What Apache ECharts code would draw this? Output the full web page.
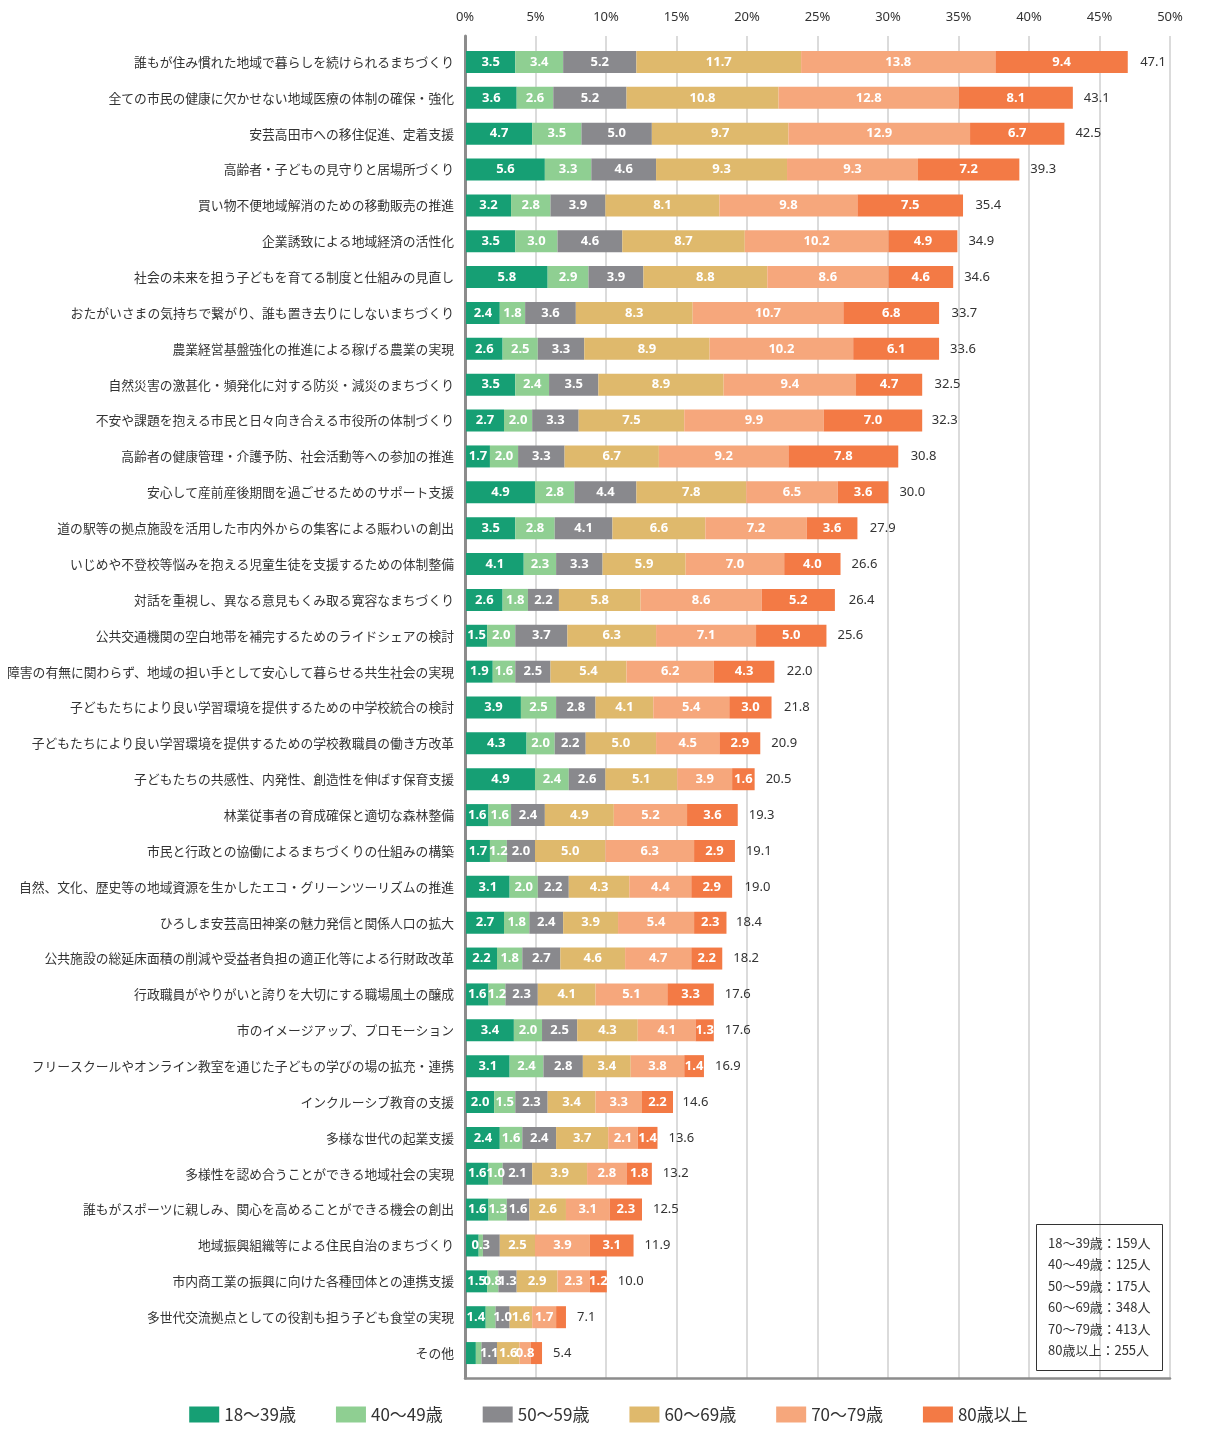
<!DOCTYPE html>
<html><head><meta charset="utf-8">
<script src="https://cdn.jsdelivr.net/npm/echarts@6/dist/echarts.min.js"></script>
<style>html,body{margin:0;padding:0;background:#fff}#c{width:1217px;height:1429px}</style>
</head><body><div id="c"></div>
<script>
const categories = [
"誰もが住み慣れた地域で暮らしを続けられるまちづくり",
"全ての市民の健康に欠かせない地域医療の体制の確保・強化",
"安芸高田市への移住促進、定着支援",
"高齢者・子どもの見守りと居場所づくり",
"買い物不便地域解消のための移動販売の推進",
"企業誘致による地域経済の活性化",
"社会の未来を担う子どもを育てる制度と仕組みの見直し",
"おたがいさまの気持ちで繋がり、誰も置き去りにしないまちづくり",
"農業経営基盤強化の推進による稼げる農業の実現",
"自然災害の激甚化・頻発化に対する防災・減災のまちづくり",
"不安や課題を抱える市民と日々向き合える市役所の体制づくり",
"高齢者の健康管理・介護予防、社会活動等への参加の推進",
"安心して産前産後期間を過ごせるためのサポート支援",
"道の駅等の拠点施設を活用した市内外からの集客による賑わいの創出",
"いじめや不登校等悩みを抱える児童生徒を支援するための体制整備",
"対話を重視し、異なる意見もくみ取る寛容なまちづくり",
"公共交通機関の空白地帯を補完するためのライドシェアの検討",
"障害の有無に関わらず、地域の担い手として安心して暮らせる共生社会の実現",
"子どもたちにより良い学習環境を提供するための中学校統合の検討",
"子どもたちにより良い学習環境を提供するための学校教職員の働き方改革",
"子どもたちの共感性、内発性、創造性を伸ばす保育支援",
"林業従事者の育成確保と適切な森林整備",
"市民と行政との協働によるまちづくりの仕組みの構築",
"自然、文化、歴史等の地域資源を生かしたエコ・グリーンツーリズムの推進",
"ひろしま安芸高田神楽の魅力発信と関係人口の拡大",
"公共施設の総延床面積の削減や受益者負担の適正化等による行財政改革",
"行政職員がやりがいと誇りを大切にする職場風土の醸成",
"市のイメージアップ、プロモーション",
"フリースクールやオンライン教室を通じた子どもの学びの場の拡充・連携",
"インクルーシブ教育の支援",
"多様な世代の起業支援",
"多様性を認め合うことができる地域社会の実現",
"誰もがスポーツに親しみ、関心を高めることができる機会の創出",
"地域振興組織等による住民自治のまちづくり",
"市内商工業の振興に向けた各種団体との連携支援",
"多世代交流拠点としての役割も担う子ども食堂の実現",
"その他"
];
const seriesNames = ["18～39歳","40～49歳","50～59歳","60～69歳","70～79歳","80歳以上"];
const age18_39 = [3.5,3.6,4.7,5.6,3.2,3.5,5.8,2.4,2.6,3.5,2.7,1.7,4.9,3.5,4.1,2.6,1.5,1.9,3.9,4.3,4.9,1.6,1.7,3.1,2.7,2.2,1.6,3.4,3.1,2.0,2.4,1.6,1.6,0.9,1.5,1.4,0.7];
const age40_49 = [3.4,2.6,3.5,3.3,2.8,3.0,2.9,1.8,2.5,2.4,2.0,2.0,2.8,2.8,2.3,1.8,2.0,1.6,2.5,2.0,2.4,1.6,1.2,2.0,1.8,1.8,1.2,2.0,2.4,1.5,1.6,1.0,1.3,0.3,0.8,0.7,0.4];
const age50_59 = [5.2,5.2,5.0,4.6,3.9,4.6,3.9,3.6,3.3,3.5,3.3,3.3,4.4,4.1,3.3,2.2,3.7,2.5,2.8,2.2,2.6,2.4,2.0,2.2,2.4,2.7,2.3,2.5,2.8,2.3,2.4,2.1,1.6,1.2,1.3,1.0,1.1];
const age60_69 = [11.7,10.8,9.7,9.3,8.1,8.7,8.8,8.3,8.9,8.9,7.5,6.7,7.8,6.6,5.9,5.8,6.3,5.4,4.1,5.0,5.1,4.9,5.0,4.3,3.9,4.6,4.1,4.3,3.4,3.4,3.7,3.9,2.6,2.5,2.9,1.6,1.6];
const age70_79 = [13.8,12.8,12.9,9.3,9.8,10.2,8.6,10.7,10.2,9.4,9.9,9.2,6.5,7.2,7.0,8.6,7.1,6.2,5.4,4.5,3.9,5.2,6.3,4.4,5.4,4.7,5.1,4.1,3.8,3.3,2.1,2.8,3.1,3.9,2.3,1.7,0.8];
const age80plus = [9.4,8.1,6.7,7.2,7.5,4.9,4.6,6.8,6.1,4.7,7.0,7.8,3.6,3.6,4.0,5.2,5.0,4.3,3.0,2.9,1.6,3.6,2.9,2.9,2.3,2.2,3.3,1.3,1.4,2.2,1.4,1.8,2.3,3.1,1.2,0.7,0.8];
const totals = [47.1,43.1,42.5,39.3,35.4,34.9,34.6,33.7,33.6,32.5,32.3,30.8,30.0,27.9,26.6,26.4,25.6,22.0,21.8,20.9,20.5,19.3,19.1,19.0,18.4,18.2,17.6,17.6,16.9,14.6,13.6,13.2,12.5,11.9,10.0,7.1,5.4];
const xTicks = [0,5,10,15,20,25,30,35,40,45,50];
// [row, series] pairs whose segment label is not printed in the original
const hiddenLabels = [[33,0],[33,2],[35,1],[35,5],[36,0],[36,1],[36,5]];
const respondents = ["18～39歳：159人","40～49歳：125人","50～59歳：175人","60～69歳：348人","70～79歳：413人","80歳以上：255人"];

const colors = ['#169f74','#8fcf92','#89898d','#dfb96c','#f6a77c','#f37a45'];
const FONT = '"Noto Sans CJK JP", "Noto Sans", sans-serif';
const NUMFONT = '"Liberation Sans Narrow", "Noto Sans", sans-serif';
const allVals = [age18_39, age40_49, age50_59, age60_69, age70_79, age80plus];
const isHidden = (r, s) => hiddenLabels.some(p => p[0] === r && p[1] === s);

const series = allVals.map((vals, s) => ({
  name: seriesNames[s], type: 'bar', stack: 'all', xAxisIndex: 1, yAxisIndex: 1,
  barWidth: 22,
  itemStyle: { color: colors[s] },
  label: { show: true, position: 'inside', color: '#fff', fontSize: 13, fontWeight: 'bold',
           fontFamily: NUMFONT, formatter: p => p.value.toFixed(1) },
  data: vals.map((v, r) => isHidden(r, s) ? { value: v, label: { show: false } } : v)
}));
series.push({
  name: 'total', type: 'bar', xAxisIndex: 1, yAxisIndex: 1, barWidth: 22, barGap: '-100%',
  itemStyle: { color: 'rgba(0,0,0,0)' }, silent: true, z: 1,
  label: { show: true, position: 'right', distance: 11, color: '#333', fontSize: 13,
           fontFamily: NUMFONT, formatter: p => p.value.toFixed(1) },
  data: totals
});

const chart = echarts.init(document.getElementById('c'));
chart.setOption({
  animation: false,
  textStyle: { fontFamily: FONT },
  grid: [
    { left: 465, top: 36, width: 705, height: 1342, outerBoundsMode: 'none', containLabel: false },
    { left: 466, top: 44, width: 704, height: 1327, outerBoundsMode: 'none', containLabel: false }
  ],
  xAxis: [
    { gridIndex: 0, type: 'value', position: 'top', min: xTicks[0], max: xTicks[xTicks.length-1], interval: xTicks[1]-xTicks[0],
      axisLine: { show: true, lineStyle: { color: '#8c8c8c', width: 2.5 } },
      axisTick: { show: false },
      axisLabel: { formatter: '{value}%', color: '#333', fontSize: 13, margin: 12, fontFamily: NUMFONT },
      splitLine: { show: true, lineStyle: { color: '#cfcfcf', width: 1.5 } } },
    { gridIndex: 1, type: 'value', min: 0, max: 50, show: false }
  ],
  yAxis: [
    { gridIndex: 0, type: 'value', min: 0, max: 1,
      axisLine: { show: true, lineStyle: { color: '#8c8c8c', width: 3 } },
      axisTick: { show: false }, axisLabel: { show: false }, splitLine: { show: false } },
    { gridIndex: 1, type: 'category', inverse: true, data: categories,
      axisLine: { show: false }, axisTick: { show: false },
      axisLabel: { color: '#333', fontSize: 12.8, margin: 12, fontFamily: FONT } }
  ],
  legend: {
    data: seriesNames, bottom: 1, left: 'center', icon: 'rect',
    itemWidth: 30, itemHeight: 16, itemGap: 40,
    textStyle: { color: '#333', fontSize: 17, fontFamily: FONT }
  },
  title: {
    text: respondents.join('\n'), left: 1036, top: 1224,
    borderColor: '#333', borderWidth: 1, padding: [8, 12, 10, 12],
    textStyle: { color: '#333', fontSize: 13, fontWeight: 'normal', lineHeight: 21.5, fontFamily: FONT }
  },
  series: series
});
</script></body></html>
